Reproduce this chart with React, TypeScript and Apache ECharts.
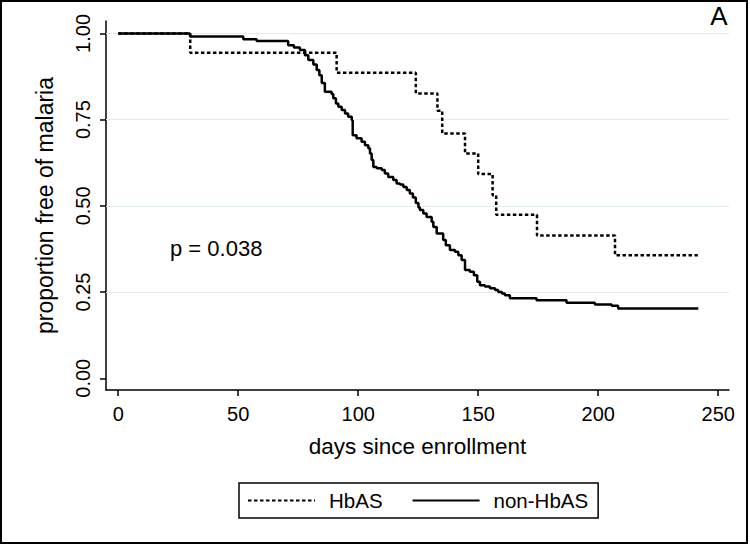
import React, { useEffect, useRef } from "react";
import * as echarts from "echarts";

// HbAS group (dotted) – Kaplan-Meier steps
const hbasDays = [0, 30, 91, 124, 133, 135, 144.5, 150, 156, 157.5, 174.5, 207, 241.5];
const hbasSurv = [1.0, 0.944, 0.886, 0.826, 0.776, 0.71, 0.652, 0.592, 0.531, 0.474, 0.414, 0.357, 0.357];

// non-HbAS group (solid)
const nonDays = [0, 29.9, 52.1, 57.7, 70.8, 73.2, 75.7, 77.8, 79.2, 81.3, 82.7, 83.8, 84.8, 86.1, 88.9,
  89.6, 90.7, 91.7, 93.1, 94.5, 95.8, 97.3, 97.7, 99.3, 101.4, 102.8, 104.2, 104.9, 105.6, 106.3,
  107.7, 109.8, 111.1, 112.5, 114.6, 116.0, 117.4, 118.8, 120.2, 121.5, 122.8, 124.0, 125.1, 125.7, 127.1,
  128.5, 130.6, 131.3, 132.7, 135.4, 136.5, 138.2, 140.3, 141.7, 143.1, 144.5, 146.5, 148.2, 149.6, 150.7,
  152.8, 154.9, 157.0, 158.3, 159.9, 161.1, 163.2, 174.3, 186.8, 198.6, 205.6, 208.3, 241.7];
const nonSurv = [1.0, 0.991, 0.983, 0.978, 0.966, 0.959, 0.952, 0.937, 0.923, 0.910, 0.894, 0.879, 0.856, 0.831, 0.824,
  0.812, 0.797, 0.787, 0.778, 0.768, 0.758, 0.749, 0.705, 0.696, 0.686, 0.676, 0.667, 0.652, 0.633, 0.613,
  0.609, 0.604, 0.594, 0.584, 0.575, 0.565, 0.562, 0.555, 0.546, 0.536, 0.524, 0.508, 0.495, 0.488, 0.478,
  0.468, 0.454, 0.439, 0.420, 0.401, 0.386, 0.372, 0.367, 0.357, 0.343, 0.314, 0.309, 0.299, 0.280, 0.270,
  0.266, 0.261, 0.256, 0.250, 0.246, 0.241, 0.232, 0.226, 0.219, 0.214, 0.210, 0.202, 0.202];

const seriesNames = ["HbAS", "non-HbAS"];
const xTicks = [0, 50, 100, 150, 200, 250];
const yTicks = [0, 0.25, 0.5, 0.75, 1];
const yTickLabels = ["0.00", "0.25", "0.50", "0.75", "1.00"];
const gridValues = [0.25, 0.5, 0.75, 1];
const xTitle = "days since enrollment";
const yTitle = "proportion free of malaria";
const pText = "p = 0.038";
const panelLetter = "A";

const FONT = "'Liberation Sans', Arial, Helvetica, sans-serif";

export default function App() {
  const ref = useRef<HTMLDivElement>(null);

  useEffect(() => {
    if (!ref.current) return;
    const chart = echarts.init(ref.current, null, { renderer: "svg" });
    const hbasData = hbasDays.map((d, i) => [d, hbasSurv[i]]);
    const nonData = nonDays.map((d, i) => [d, nonSurv[i]]);

    const option: any = {
      animation: false,
      backgroundColor: "#ffffff",
      textStyle: { fontFamily: FONT, color: "#000" },
      grid: { left: 106, right: 21, top: 21, bottom: 155, containLabel: false },
      xAxis: {
        type: "value",
        min: -5.1,
        max: 254.5,
        name: xTitle,
        nameLocation: "middle",
        nameGap: 45,
        nameTextStyle: { fontSize: 22.5, color: "#000", fontFamily: FONT },
        axisLine: { show: true, onZero: false, lineStyle: { color: "#000", width: 1.5 } },
        axisTick: { show: true, length: 6, customValues: xTicks, lineStyle: { color: "#000", width: 1.5 } },
        axisLabel: { customValues: xTicks, fontSize: 20, color: "#000", margin: 14, fontFamily: FONT },
        splitLine: { show: false },
      },
      yAxis: {
        type: "value",
        min: -0.034,
        max: 1.036,
        name: yTitle,
        nameLocation: "middle",
        nameGap: 50,
        nameRotate: 90,
        nameTextStyle: { fontSize: 23, color: "#000", fontFamily: FONT },
        axisLine: { show: true, onZero: false, lineStyle: { color: "#000", width: 1.5 } },
        axisTick: { show: true, length: 6, customValues: yTicks, lineStyle: { color: "#000", width: 1.5 } },
        axisLabel: {
          customValues: yTicks,
          rotate: 90,
          fontSize: 20,
          color: "#000",
          margin: 13,
          fontFamily: FONT,
          formatter: (v: number) => {
            const i = yTicks.findIndex((t) => Math.abs(t - v) < 1e-9);
            return i >= 0 ? yTickLabels[i] : "";
          },
        },
        splitLine: { show: false },
      },
      legend: {
        data: seriesNames,
        left: 239,
        top: 483,
        orient: "horizontal",
        padding: [7, 10, 7, 8],
        itemWidth: 67,
        itemHeight: 14,
        itemGap: 29,
        borderColor: "#000",
        borderWidth: 1.5,
        borderRadius: 0,
        itemStyle: { opacity: 0 },
        textStyle: { fontSize: 20.5, color: "#000", fontFamily: FONT, padding: [0, 0, 0, 9] },
      },
      series: [
        {
          name: seriesNames[0],
          type: "line",
          step: "end",
          data: hbasData,
          symbol: "none",
          showSymbol: false,
          lineStyle: { color: "#000", width: 2.5, type: [3.5, 2.5] },
          itemStyle: { color: "#000" },
          z: 3,
        },
        {
          name: seriesNames[1],
          type: "line",
          step: "end",
          data: nonData,
          symbol: "none",
          showSymbol: false,
          lineStyle: { color: "#000", width: 2.5, type: "solid" },
          itemStyle: { color: "#000" },
          z: 4,
          markLine: {
            silent: true,
            z: 1,
            symbol: ["none", "none"],
            label: { show: false },
            lineStyle: { color: "#e2ecec", width: 1.2, type: "solid" },
            data: gridValues.map((v) => ({ yAxis: v })),
          },
        },
      ],
      graphic: [
        {
          type: "rect",
          shape: { x: 1, y: 1, width: 746, height: 542 },
          style: { fill: "none", stroke: "#000", lineWidth: 2 },
          silent: true,
          z: 10,
        },
        {
          type: "text",
          x: 719,
          y: 16,
          style: {
            text: panelLetter,
            fontSize: 26,
            fontFamily: FONT,
            fill: "#000",
            textAlign: "center",
            textVerticalAlign: "middle",
          },
          z: 10,
        },
        {
          type: "text",
          x: 170,
          y: 248.5,
          style: {
            text: pText,
            fontSize: 22,
            fontFamily: FONT,
            fill: "#000",
            textAlign: "left",
            textVerticalAlign: "middle",
          },
          z: 10,
        },
      ],
    };

    chart.setOption(option);
    return () => chart.dispose();
  }, []);

  return (
    <div
      ref={ref}
      style={{ position: "absolute", left: 0, top: 0, width: 750, height: 545, background: "#fff" }}
    />
  );
}
